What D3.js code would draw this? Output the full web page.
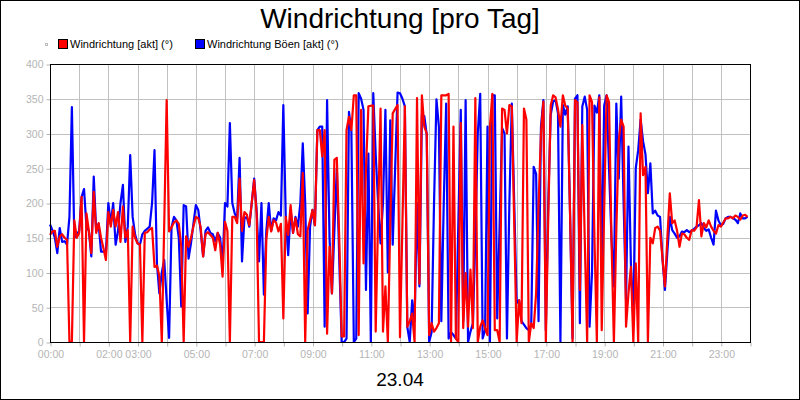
<!DOCTYPE html>
<html>
<head>
<meta charset="utf-8">
<script src="https://cdn.jsdelivr.net/npm/d3@7"></script>
<style>
  body { margin: 0; background: #fff; }
  svg { display: block; font-family: "Liberation Sans", Arial, sans-serif; }
  .grid line { stroke: #c0c0c0; }
  .axis text { fill: #b4b4b4; font-size: 10.5px; }
  .axis line { stroke: #b4b4b4; }
  .axis path { display: none; }
</style>
</head>
<body>
<div id="chart"></div>
<script>
// 5-minute readings for 23.04, degrees
var windDir = [
  154,159,160,137,152,155,150,147,0,0,
  175,150,157,209,0,185,160,128,216,157,
  171,150,135,118,187,166,190,166,187,144,
  195,150,161,0,166,150,142,140,0,157,
  158,162,164,108,110,95,0,170,348,159,
  165,172,175,170,137,0,152,137,150,166,
  180,178,165,123,155,158,154,150,132,157,
  140,94,173,160,0,180,180,171,235,160,
  187,183,168,200,233,185,0,0,0,147,
  180,159,175,172,159,170,34,180,154,197,
  157,178,155,152,243,0,161,175,190,168,
  305,305,267,305,12,137,70,262,265,150,
  8,8,305,324,305,355,355,10,334,113,
  250,339,340,340,15,180,336,15,80,0,
  170,329,335,341,7,170,339,22,30,41,
  0,351,84,355,310,300,10,27,15,20,
  27,355,355,355,357,0,310,5,0,315,
  20,99,22,104,20,351,0,22,31,20,
  10,310,357,17,17,0,336,334,300,341,
  339,170,0,60,27,336,320,0,27,20,
  70,196,300,346,0,180,340,355,352,335,
  310,355,340,336,180,0,348,345,75,312,
  150,0,355,345,150,0,352,17,190,355,
  345,150,0,160,290,320,310,22,70,108,
  0,113,0,329,240,252,0,150,142,164,
  166,160,120,80,150,214,171,175,160,137,
  156,155,150,147,161,160,165,204,152,171,
  165,175,166,160,156,168,166,172,178,178,
  180,178,182,180,176,182,183,180
];
var windGust = [
  169,161,150,128,164,144,145,140,180,338,
  150,155,160,209,220,166,160,123,238,160,
  170,130,130,128,200,170,200,140,160,200,
  226,144,166,269,180,155,142,140,155,160,
  163,166,200,276,113,70,100,118,60,6,
  165,180,175,150,51,197,195,120,142,170,
  197,190,160,123,160,165,157,155,145,157,
  150,113,200,195,315,200,185,178,265,116,
  178,180,166,200,235,190,116,200,68,160,
  200,160,178,175,187,182,341,180,125,190,
  157,180,166,200,286,200,41,166,190,168,
  305,310,310,22,348,150,70,160,250,120,
  0,0,5,331,303,0,5,358,350,334,
  75,271,0,358,270,200,142,200,334,100,
  319,140,250,359,358,350,339,22,0,60,
  30,200,80,327,325,298,0,14,200,349,
  310,30,200,343,5,14,10,5,170,334,
  30,348,0,15,27,150,300,357,5,17,
  310,0,355,355,34,170,308,300,5,200,
  343,200,56,60,30,25,20,17,25,252,
  242,30,310,348,17,200,327,346,348,329,
  0,341,327,339,180,5,350,355,27,339,
  353,334,22,100,340,330,355,108,340,355,
  250,150,80,343,235,353,200,60,281,113,
  30,250,276,320,289,270,214,257,185,189,
  182,180,120,75,130,180,161,156,150,152,
  159,158,161,158,160,163,166,168,171,164,
  160,162,150,140,189,175,168,170,178,180,
  180,178,176,171,185,178,178,180
];
var seriesNames = ["Windrichtung [akt] (°)", "Windrichtung Böen [akt] (°)"];
var seriesColors = ["#ff0000", "#0000ff"];
var yTicks = [0, 50, 100, 150, 200, 250, 300, 350, 400];
var xTickHours = d3.range(0, 25);
var xLabelHours = [0, 2, 3, 5, 7, 9, 11, 13, 15, 17, 19, 21, 23];
var chartTitle = "Windrichtung [pro Tag]";
var dayLabel = "23.04";

var W = 800, H = 400;
var margin = {top: 64, right: 50, bottom: 58, left: 50};

var svg = d3.select("#chart").append("svg")
  .attr("width", W).attr("height", H);

svg.append("rect")
  .attr("x", 0.5).attr("y", 0.5)
  .attr("width", W - 1).attr("height", H - 1)
  .attr("fill", "#fff").attr("stroke", "#000");

var x = d3.scaleLinear().domain([0, 24]).range([margin.left, W - margin.right]);
var y = d3.scaleLinear().domain([0, 400]).range([H - margin.bottom, margin.top]);

// gridlines
var grid = svg.append("g").attr("class", "grid");
grid.selectAll(".gx").data(xTickHours).enter().append("line")
  .attr("x1", function(d) { return Math.round(x(d)) + 0.5; })
  .attr("x2", function(d) { return Math.round(x(d)) + 0.5; })
  .attr("y1", y(0)).attr("y2", y(400));
grid.selectAll(".gy").data(yTicks).enter().append("line")
  .attr("y1", function(d) { return Math.round(y(d)) + 0.5; })
  .attr("y2", function(d) { return Math.round(y(d)) + 0.5; })
  .attr("x1", x(0)).attr("x2", x(24));

// axes
var axisLeft = d3.axisLeft(y).tickValues(yTicks).tickSize(4).tickPadding(3);
svg.append("g")
  .attr("class", "axis")
  .attr("transform", "translate(" + (margin.left + 0.5) + ",0.5)")
  .call(axisLeft);

var axisBottom = d3.axisBottom(x).tickValues(xTickHours).tickSize(4).tickPadding(4)
  .tickFormat(function(d) {
    return xLabelHours.indexOf(d) >= 0 ? (d < 10 ? "0" : "") + d + ":00" : "";
  });
svg.append("g")
  .attr("class", "axis")
  .attr("transform", "translate(0.5," + (H - margin.bottom + 0.5) + ")")
  .call(axisBottom);

// lines
var line = d3.line()
  .x(function(d, i) { return x(i * 5 / 60); })
  .y(function(d) { return y(d); });

svg.append("path").datum(windGust)
  .attr("fill", "none").attr("stroke", seriesColors[1])
  .attr("stroke-width", 2.2).attr("stroke-linejoin", "round")
  .attr("d", line);
svg.append("path").datum(windDir)
  .attr("fill", "none").attr("stroke", seriesColors[0])
  .attr("stroke-width", 2.2).attr("stroke-linejoin", "round")
  .attr("d", line);

// frame
svg.append("rect")
  .attr("x", x(0) + 0.5).attr("y", y(400) + 0.5)
  .attr("width", x(24) - x(0)).attr("height", y(0) - y(400))
  .attr("fill", "none").attr("stroke", "#000");

// title
svg.append("text")
  .attr("x", W / 2).attr("y", 28)
  .attr("text-anchor", "middle")
  .attr("font-size", "28px")
  .text(chartTitle);

// legend
svg.append("rect")
  .attr("x", 45.5).attr("y", 43.5).attr("width", 2).attr("height", 2)
  .attr("fill", "none").attr("stroke", "#bbb");
var legendX = [58, 195];
seriesNames.forEach(function(name, k) {
  svg.append("rect")
    .attr("x", legendX[k] + 0.5).attr("y", 39.5)
    .attr("width", 9).attr("height", 9)
    .attr("fill", seriesColors[k]).attr("stroke", "#000");
  svg.append("text")
    .attr("x", legendX[k] + 12).attr("y", 48)
    .attr("font-size", "11px")
    .text(name);
});

// day label
svg.append("text")
  .attr("x", W / 2).attr("y", 386)
  .attr("text-anchor", "middle")
  .attr("font-size", "19px")
  .text(dayLabel);
</script>
</body>
</html>
